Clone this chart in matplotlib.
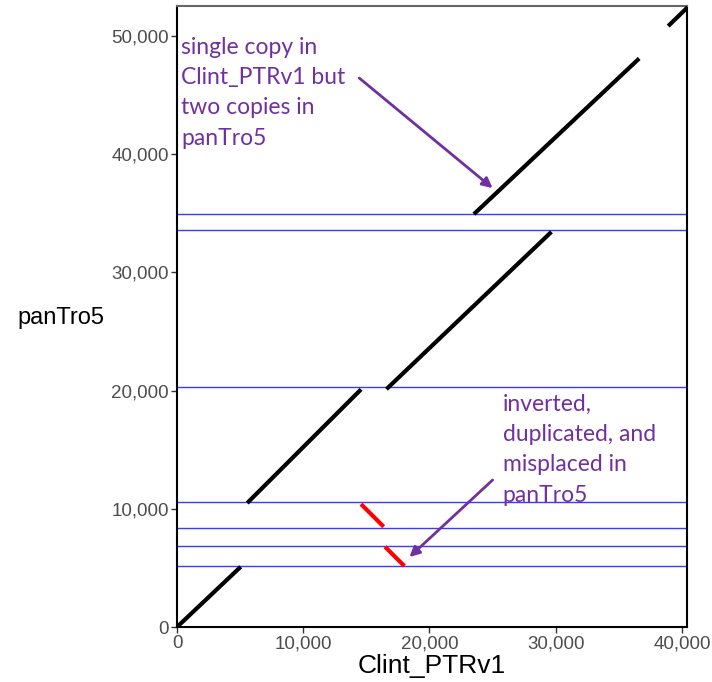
import matplotlib.pyplot as plt
from matplotlib.ticker import FuncFormatter

# Collinear alignment blocks (Clint_PTRv1 start/end, panTro5 start/end)
fwd_x0 = [0, 5560, 16590, 23520, 38910]
fwd_x1 = [5050, 14580, 29660, 36610, 40480]
fwd_y0 = [0, 10490, 20130, 34940, 50850]
fwd_y1 = [5100, 20110, 33440, 48110, 52480]

# Inverted blocks
inv_x0 = [14580, 16480]
inv_x1 = [16370, 18010]
inv_y0 = [10400, 6790]
inv_y1 = [8490, 5160]

# Contig / scaffold boundaries on panTro5
breaks_y = [34940, 33590, 20300, 10575, 8375, 6850, 5160]

x_ticks = [0, 10000, 20000, 30000, 40000]
y_ticks = [0, 10000, 20000, 30000, 40000, 50000]

note_dup = "single copy in\nClint_PTRv1 but\ntwo copies in\npanTro5"
note_inv = "inverted,\nduplicated, and\nmisplaced in\npanTro5"
PURPLE = "#7030a0"

fig = plt.figure(figsize=(7.12, 6.82), dpi=100)
ax = fig.add_axes([0.2486, 0.0806, 0.7163, 0.9106])

for y in breaks_y:
    ax.axhline(y, color="#3b3bff", linewidth=1.0, zorder=1)

for x0, x1, y0, y1 in zip(fwd_x0, fwd_x1, fwd_y0, fwd_y1):
    ax.plot([x0, x1], [y0, y1], color="black", linewidth=3.0,
            solid_capstyle="butt", zorder=3)
for x0, x1, y0, y1 in zip(inv_x0, inv_x1, inv_y0, inv_y1):
    ax.plot([x0, x1], [y0, y1], color="#ff0000", linewidth=3.0,
            solid_capstyle="butt", zorder=3)

ax.set_xlim(0, 40400)
ax.set_ylim(0, 52550)
ax.set_xticks(x_ticks)
ax.set_yticks(y_ticks)
fmt = FuncFormatter(lambda v, _: f"{int(v):,}")
ax.xaxis.set_major_formatter(fmt)
ax.yaxis.set_major_formatter(fmt)
ax.tick_params(direction="out", length=4, width=1, color="#333333",
               labelcolor="#4d4d4d", labelsize=13.5, pad=2)
for lab in ax.get_xticklabels() + ax.get_yticklabels():
    lab.set_family("Liberation Sans")

for side in ["left", "bottom", "right", "top"]:
    ax.spines[side].set_linewidth(1.5)
    ax.spines[side].set_color("black")
ax.spines["top"].set_color("#666666")

ax.set_xlabel("Clint_PTRv1", fontsize=19, family="Liberation Sans", labelpad=1)
fig.text(0.085, 0.534, "panTro5", fontsize=17, family="Liberation Sans",
         ha="center", va="center")

ax.text(320, 49950, note_dup, color=PURPLE, fontsize=16.5, family="Lato",
        ha="left", va="top", linespacing=1.55, zorder=4)
ax.text(25790, 19750, note_inv, color=PURPLE, fontsize=16.5, family="Lato",
        ha="left", va="top", linespacing=1.55, zorder=4)

arrow = dict(arrowstyle="-|>,head_length=0.6,head_width=0.3", color=PURPLE,
             linewidth=2.0, shrinkA=0, shrinkB=0)
ax.annotate("", xy=(25000, 37140), xytext=(14440, 46450), arrowprops=arrow)
ax.annotate("", xy=(18410, 5920), xytext=(25000, 12440), arrowprops=arrow)

fig.savefig("out.png", dpi=100)
